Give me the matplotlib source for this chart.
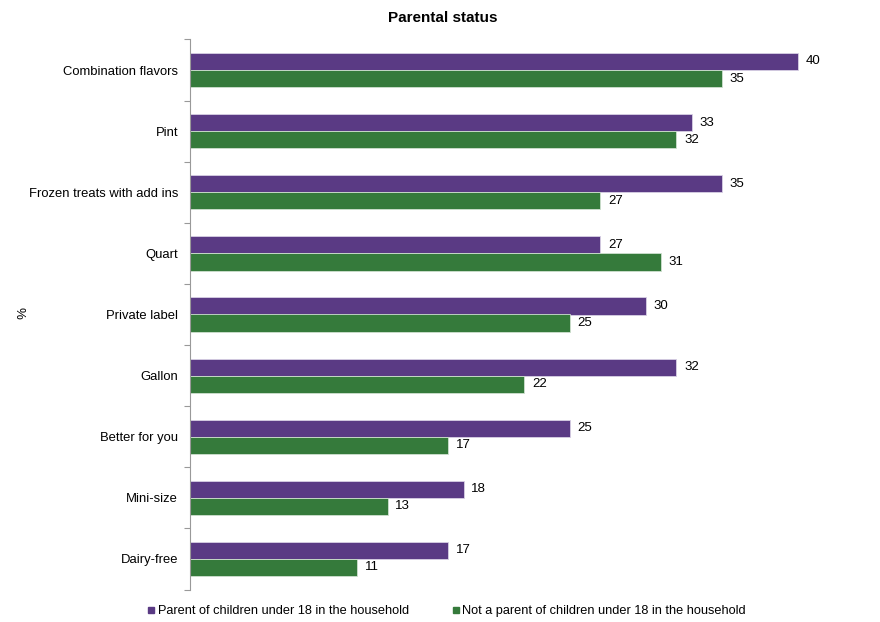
import numpy as np
import matplotlib
matplotlib.use('Agg')
import matplotlib.pyplot as plt
from matplotlib.lines import Line2D

plt.rcParams['font.family'] = ['Liberation Sans', 'DejaVu Sans']

# データ
categories = ['Combination flavors', 'Pint', 'Frozen treats with add ins', 'Quart',
              'Private label', 'Gallon', 'Better for you', 'Mini-size', 'Dairy-free']
parent = [40, 33, 35, 27, 30, 32, 25, 18, 17]
not_parent = [35, 32, 27, 31, 25, 22, 17, 13, 11]
series_names = ['Parent of children under 18 in the household',
                'Not a parent of children under 18 in the household']

purple = '#5a3a84'
green = '#357a3b'

fig = plt.figure(figsize=(8.8, 6.22), dpi=100)
ax = fig.add_axes([190/880, 1 - 589.5/622, 684/880, (589.5 - 39.5)/622])

n = len(categories)
y = np.arange(n)
h = 0.28
ax.barh(y - h/2, parent, height=h, color=purple, edgecolor='#d8d0e4', linewidth=0.6)
ax.barh(y + h/2, not_parent, height=h, color=green, edgecolor='#cfe0d0', linewidth=0.6)

for i in range(n):
    ax.text(parent[i] + 0.5, y[i] - h/2, str(parent[i]), va='center', ha='left', fontsize=9.5)
    ax.text(not_parent[i] + 0.5, y[i] + h/2, str(not_parent[i]), va='center', ha='left', fontsize=9.5)

ax.set_xlim(0, 45)
ax.set_ylim(n - 0.5, -0.5)
ax.set_yticks(y)
ax.set_yticklabels(categories, fontsize=9.4)
ax.tick_params(axis='y', which='major', length=0, pad=8.5)
ax.set_yticks(np.arange(-0.5, n, 1), minor=True)
ax.tick_params(axis='y', which='minor', length=4, color='#999999', width=0.8)
ax.set_xticks([])
for s in ['top', 'right', 'bottom']:
    ax.spines[s].set_visible(False)
ax.spines['left'].set_color('#999999')
ax.spines['left'].set_linewidth(0.8)

fig.text(0.503, 1 - 18.5/622, 'Parental status', ha='center', va='center',
         fontsize=11, fontweight='bold')
fig.text(18/880, 1 - 313/622, '%', rotation=-90, ha='center', va='center', fontsize=9.5)

handles = [Line2D([], [], marker='s', linestyle='none', color=purple, markersize=4),
           Line2D([], [], marker='s', linestyle='none', color=green, markersize=4)]
fig.legend(handles, series_names, loc='center', bbox_to_anchor=(0.507, 1 - 611/622),
           ncol=2, frameon=False, fontsize=9.2, handletextpad=0.1, columnspacing=3.3,
           handlelength=0.8)

fig.savefig('out.png', dpi=100)
